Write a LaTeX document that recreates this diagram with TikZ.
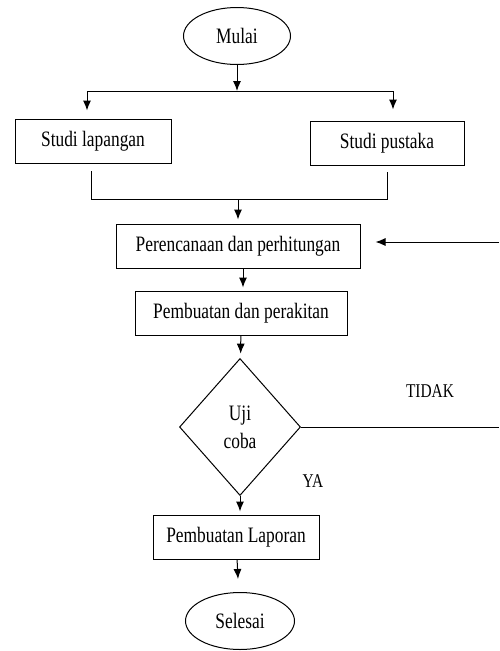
\documentclass[tikz,border=0pt]{standalone}
\usepackage{fontspec}
\setmainfont[FakeStretch=0.79]{Liberation Serif}
\usetikzlibrary{shapes.geometric,arrows.meta}

\begin{document}
\begin{tikzpicture}[x=1pt,y=-1pt,line width=1pt,
    >={Latex[length=10pt,width=8pt]},
    every node/.style={font=\fontsize{22}{28}\selectfont},
    terminal/.style={draw,ellipse,inner sep=0pt,minimum width=107pt,minimum height=57pt},
    process/.style={draw,rectangle,inner sep=0pt,minimum height=44pt},
    decision/.style={draw,diamond,inner sep=0pt,minimum width=121pt,minimum height=137pt,align=center},
    answer/.style={font=\fontsize{19.5}{22}\selectfont}]
\useasboundingbox (0,0) rectangle (499,651);

% Start and the two studies
\node[terminal] (mulai) at (237,36) {Mulai};
\node[process,minimum width=156pt] (lapangan) at (93,141) {Studi lapangan};
\node[process,minimum width=154pt] (pustaka) at (387,143) {Studi pustaka};

% Main steps
\node[process,minimum width=244pt] (rencana) at (238,246) {Perencanaan dan perhitungan};
\node[process,minimum width=212pt] (rakit) at (241,313) {Pembuatan dan perakitan};
\node[decision] (uji) at (240,427) {Uji\\coba};
\node[process,minimum width=166pt] (laporan) at (236,537) {Pembuatan Laporan};
\node[terminal,minimum width=109pt] (selesai) at (240,621) {Selesai};

% Answers
\node[answer] (tidak) at (430,391) {TIDAK};
\node[answer] (ya) at (313,481) {YA};

% Branch and join points
\coordinate (split) at (237,91);
\coordinate (splitL) at (87,91);
\coordinate (splitR) at (393,91);
\coordinate (joinL) at (91,199);
\coordinate (joinR) at (387,199);
\coordinate (join) at (238,199);
\coordinate (loopOut) at (499,427);
\coordinate (loopIn) at (499,242);

% Connectors
\draw[->] (mulai) -- (split);
\draw (splitL) -- (splitR);
\draw[->,shorten >=8pt] (splitL) -- (splitL |- lapangan.north);
\draw[->,shorten >=11pt] (splitR) -- (splitR |- pustaka.north);
\draw (joinL |- 0,171) -- (joinL) -- (joinR) -- (joinR |- 0,172);
\draw[->,shorten >=4pt] (join) -- (join |- rencana.north);
\draw[->,shorten >=3pt] (rencana.south -| 243,0) -- (243,0 |- rakit.north);
\draw[->,shorten >=5pt] (rakit) -- (uji);
\draw[->,shorten >=3pt] (uji) -- (uji |- laporan.north);
\draw[->,shorten >=13pt] (laporan) -- (selesai);
\draw (uji.east) -- (loopOut);
\draw[->,shorten >=15pt] (loopIn) -- (loopIn -| rencana.east);
\end{tikzpicture}
\end{document}
